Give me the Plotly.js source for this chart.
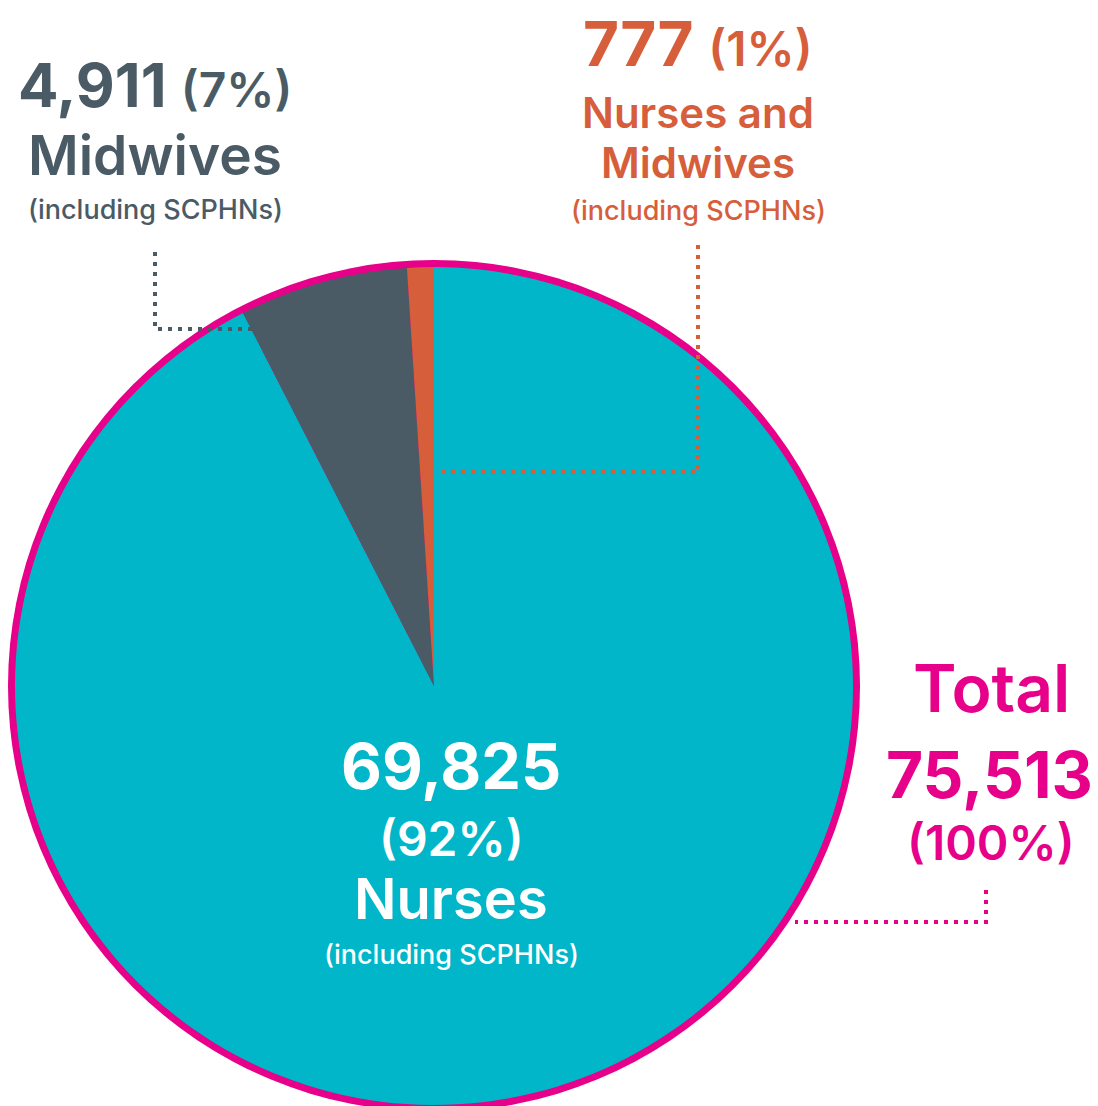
<!DOCTYPE html>
<html>
<head>
<meta charset="utf-8">
<script src="https://cdn.plot.ly/plotly-3.0.1.min.js"></script>
<style>
html,body{margin:0;padding:0;overflow:hidden;background:#fff;}
#chart{width:1098px;height:1200px;}
</style>
</head>
<body>
<div id="chart"></div>
<script>
// ---- data ----
const categories = ["Nurses", "Midwives", "Nurses and Midwives"];
const counts = [69825, 4911, 777];
const percents = ["92%", "7%", "1%"];
const subLabel = "(including SCPHNs)";
const totalLabel = "Total";
const totalCount = 75513;
const totalPercent = "100%";

// ---- styles ----
const W = 1098, H = 1200;
const TEAL = "#00B6C8", GREY = "#4A5B66", ORANGE = "#D65E3B", PINK = "#E6008A";
const FONT = "Inter, 'Open Sans', sans-serif";
const px = x => x / W;
const py = y => 1 - y / H;
const fmt = n => n.toLocaleString("en-GB");

const cx = 434, cy = 686, rOuter = 426, rInner = 419;
function dom(r){ return {x:[px(cx-r), px(cx+r)], y:[py(cy+r), py(cy-r)]}; }

const traces = [
  { type:"pie", values:[totalCount], labels:[totalLabel], marker:{colors:[PINK], line:{width:0}},
    textinfo:"none", hoverinfo:"skip", sort:false, domain:dom(rOuter), showlegend:false },
  { type:"pie", values:counts, labels:categories, marker:{colors:[TEAL, GREY, ORANGE], line:{width:0}},
    textinfo:"none", hoverinfo:"label+value", sort:false, direction:"clockwise", rotation:0,
    domain:dom(rInner), showlegend:false }
];

function ann(text, x, y, size, color, weight){
  return {text:text, x:px(x), y:py(y), xref:"paper", yref:"paper", xanchor:"center", yanchor:"middle",
    showarrow:false, font:{family:FONT, size:size, color:color, weight:weight}};
}
function numPct(n, p, psize){
  return "<b>" + fmt(n) + "</b> <span style=\"font-size:" + psize + "px;font-weight:600\">(" + p + ")</span>";
}

const annotations = [
  // Midwives
  ann(numPct(counts[1], percents[1], 48), 155, 85, 60, GREY, 700),
  ann(categories[1], 155, 155, 55, GREY, 600),
  ann(subLabel, 155, 209, 27, GREY, 500),
  // Nurses and Midwives
  ann(numPct(counts[2], percents[2], 48), 698, 44, 62, ORANGE, 700),
  ann("Nurses and", 698, 113, 42, ORANGE, 600),
  ann("Midwives", 698, 162, 42, ORANGE, 600),
  ann(subLabel, 698, 211, 27, ORANGE, 500),
  // Nurses
  ann("<b>" + fmt(counts[0]) + "</b>", 451, 766, 63, "#ffffff", 700),
  ann("(" + percents[0] + ")", 451, 838, 48, "#ffffff", 600),
  ann(categories[0], 451, 899, 56, "#ffffff", 600),
  ann(subLabel, 451, 954, 27, "#ffffff", 500),
  // Total
  ann(totalLabel, 991, 688, 66, PINK, 600),
  ann("<b>" + fmt(totalCount) + "</b>", 989, 774, 64, PINK, 700),
  ann("(" + totalPercent + ")", 991, 842, 48, PINK, 600)
];

function leader(pts, color){
  let d = "M " + px(pts[0][0]) + "," + py(pts[0][1]);
  for (let i = 1; i < pts.length; i++) d += " L " + px(pts[i][0]) + "," + py(pts[i][1]);
  return {type:"path", path:d, xref:"paper", yref:"paper", layer:"above",
    line:{color:color, width:4, dash:"4px,6px"}};
}
const shapes = [
  leader([[155,252],[155,329],[296,329]], GREY),
  leader([[698,245],[698,472],[442,472]], ORANGE),
  leader([[986,890],[986,922],[795,922]], PINK)
];

const layout = {
  width:W, height:H, margin:{l:0,r:0,t:0,b:0},
  paper_bgcolor:"#ffffff", plot_bgcolor:"#ffffff",
  showlegend:false, annotations:annotations, shapes:shapes
};
Plotly.newPlot("chart", traces, layout, {displayModeBar:false, staticPlot:true});
</script>
</body>
</html>
